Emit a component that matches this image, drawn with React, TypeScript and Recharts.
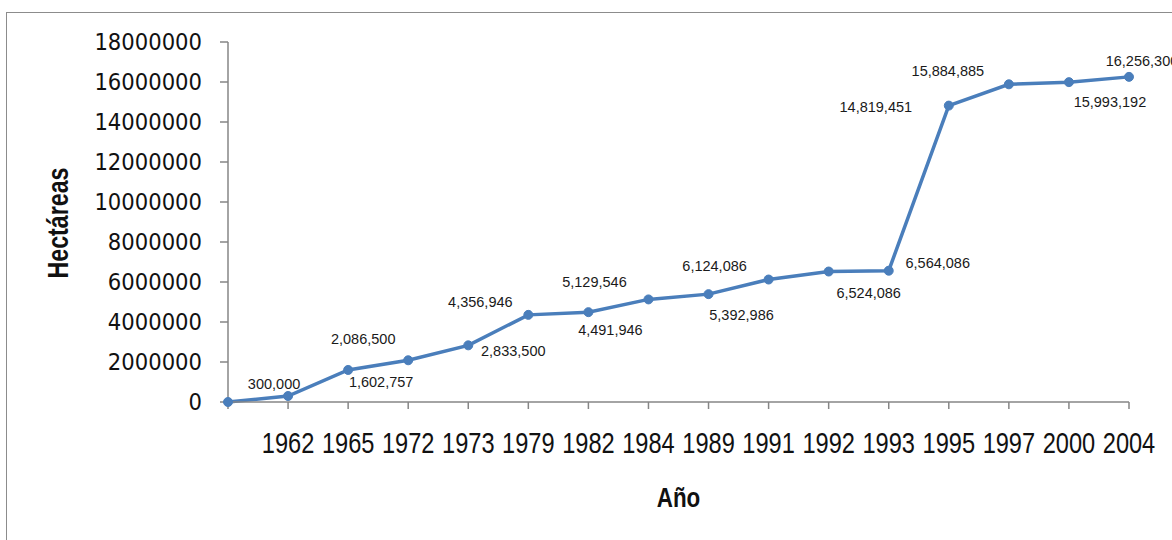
import { LineChart, Line, XAxis, YAxis, LabelList } from 'recharts';

// años (la primera categoría va sin etiqueta, es el punto de partida en 0)
const years = ['', '1962', '1965', '1972', '1973', '1979', '1982', '1984', '1989', '1991', '1992', '1993', '1995', '1997', '2000', '2004'];
const hectares = [0, 300000, 1602757, 2086500, 2833500, 4356946, 4491946, 5129546, 5392986, 6124086, 6524086, 6564086, 14819451, 15884885, 15993192, 16256300];
const yTicks = [0, 2000000, 4000000, 6000000, 8000000, 10000000, 12000000, 14000000, 16000000, 18000000];

// where each data label sits relative to its point (as in the original sheet)
const labelOffsets: [number, number][] = [
  [0, 0], [-14, -12], [33, 12], [-45, -21], [45, 6], [-48, -13], [22, 18], [-54, -17],
  [33, 21], [-54, -14], [40, 21], [49, -8], [-73, 1], [-61, -13], [41, 20], [13, -16],
];

const data = years.map((year, i) => ({ year, value: hectares[i] }));

const BLUE = '#4a7ebb';
const AXIS = '#868686';
const SANS = "'Liberation Sans', Arial, sans-serif";
const SQUEEZE = 0.8; // no narrow font installed, so scale text horizontally

const fmt = (v: number) => v.toLocaleString('en-US');

const PointLabel = (props: any) => {
  const { x, y, index, value } = props;
  if (!value) return null;
  const [dx, dy] = labelOffsets[index];
  return (
    <text x={x + dx} y={y + dy} textAnchor="middle" dominantBaseline="central"
      fontSize={14.5} fontFamily={SANS} fill="#1a1a1a">
      {fmt(value)}
    </text>
  );
};

const YearTick = (props: any) => {
  const { x, y, payload } = props;
  if (!payload.value) return null;
  return (
    <g transform={`translate(${x}, ${y + 12}) scale(${SQUEEZE}, 1)`}>
      <text x={0} y={0} textAnchor="middle" dominantBaseline="central"
        fontSize={29.5} fontFamily={SANS} fill="#111">
        {payload.value}
      </text>
    </g>
  );
};

const XTitle = (props: any) => {
  const { viewBox } = props;
  return (
    <g transform={`translate(${viewBox.x + viewBox.width / 2}, 497) scale(${SQUEEZE}, 1)`}>
      <text x={0} y={0} textAnchor="middle" dominantBaseline="central"
        fontSize={28} fontWeight="bold" fontFamily={SANS} fill="#111">
        Año
      </text>
    </g>
  );
};

const YTitle = () => (
  <g transform={`translate(58, 223) rotate(-90) scale(${SQUEEZE}, 1)`}>
    <text x={0} y={0} textAnchor="middle" dominantBaseline="central"
      fontSize={29} fontWeight="bold" fontFamily={SANS} fill="#111">
      Hectáreas
    </text>
  </g>
);

export default function App() {
  return (
    <div style={{ position: 'absolute', left: 0, top: 0, width: 1172, height: 540, overflow: 'hidden', background: '#fff' }}>
      <div style={{ position: 'absolute', left: 6, top: 12, width: 1300, height: 700, border: '1px solid #8c8c8c' }} />
      <div style={{ position: 'absolute', left: 0, top: 0 }}>
        <LineChart width={1172} height={540} data={data} margin={{ top: 42, right: 43, left: 0, bottom: 0 }}>
          <XAxis
            dataKey="year"
            type="category"
            height={138}
            padding={{ left: 0, right: 0 }}
            stroke={AXIS}
            strokeWidth={1.5}
            tickSize={7}
            tickMargin={22}
            interval={0}
            tick={<YearTick />}
            label={<XTitle />}
          />
          <YAxis
            domain={[0, 18000000]}
            ticks={yTicks}
            width={228}
            stroke={AXIS}
            strokeWidth={1.5}
            tickSize={8}
            tickMargin={18}
            interval={0}
            tickFormatter={(v: number) => String(v)}
            tick={{ fill: '#111', fontSize: 23.5, fontFamily: "'DejaVu Sans Condensed', 'Liberation Sans', sans-serif" }}
            label={<YTitle />}
          />
          <Line
            type="linear"
            dataKey="value"
            stroke={BLUE}
            strokeWidth={3.5}
            dot={{ r: 4.5, fill: BLUE, stroke: BLUE, strokeWidth: 1 }}
            isAnimationActive={false}
          >
            <LabelList dataKey="value" content={PointLabel} />
          </Line>
        </LineChart>
      </div>
    </div>
  );
}
